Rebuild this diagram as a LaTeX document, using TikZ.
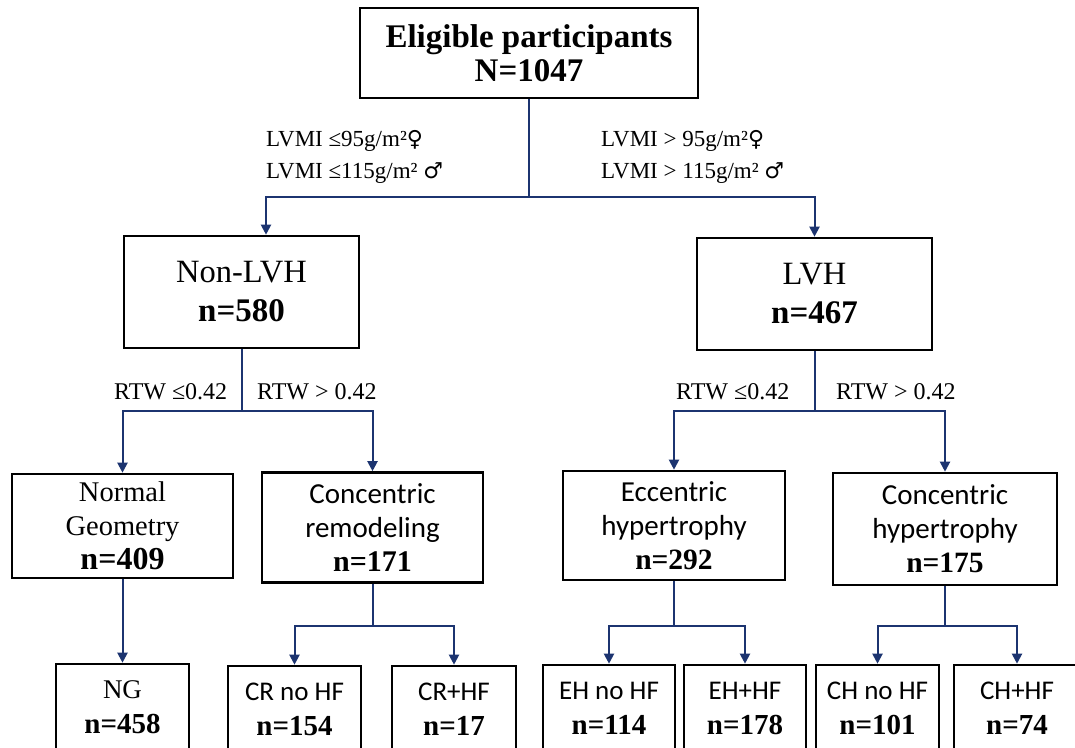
\documentclass[tikz,border=0pt]{standalone}
\usepackage{fontspec}
\setmainfont{Liberation Serif}
\newfontfamily\calibfont{Carlito}
\newfontfamily\symfont{DejaVu Sans}
\usetikzlibrary{arrows.meta}
\definecolor{linecol}{RGB}{28,52,112}
\newcommand{\fem}{{\symfont\fontsize{22}{22}\selectfont ♀}}
\newcommand{\mal}{{\symfont\fontsize{22}{22}\selectfont ♂}}
\begin{document}
\begin{tikzpicture}[x=1pt,y=-1pt,
  box/.style={draw=black,line width=2.6pt,inner sep=0pt,align=center,fill=white},
  conn/.style={draw=linecol,line width=2pt,-{Triangle[width=10pt,length=10pt]}},
  stem/.style={draw=linecol,line width=2pt},
  lab/.style={inner sep=0pt,font=\fontsize{24}{31}\selectfont},
  labtwo/.style={inner sep=0pt,align=left,font=\fontsize{23}{32}\selectfont},
  midbox/.style={box,minimum width=221pt},
  botbox/.style={box,minimum height=86pt},
  serifmid/.style={font=\fontsize{28.5}{34}\selectfont},
  sansmid/.style={font=\calibfont\fontsize{29}{34}\selectfont},
  sansbot/.style={font=\calibfont\fontsize{27}{35}\selectfont},
  serifbot/.style={font=\fontsize{27}{35}\selectfont}
]
\newcommand{\bnum}[2]{{\rmfamily\bfseries\fontsize{#1}{#1}\selectfont #2}}
\useasboundingbox (0,0) rectangle (1075,747);
\clip (0,0) rectangle (1075,747);

% level 0
\node[box,minimum width=338pt,minimum height=90pt,font=\fontsize{33}{34}\selectfont\bfseries] (top) at (529,53) {Eligible participants\\N=1047};

% level 1
\node[box,minimum width=235pt,minimum height=112pt,font=\fontsize{32.5}{39}\selectfont] (nonlvh) at (241.5,292)
  {Non-LVH\\\bnum{33}{n=580}};
\node[box,minimum width=235pt,minimum height=112pt,font=\fontsize{32.5}{39}\selectfont] (lvh) at (814.5,294)
  {LVH\\\bnum{33}{n=467}};

% level 2
\node[midbox,serifmid,minimum height=104pt] (ng) at (122.5,526)
  {Normal\\Geometry\\\bnum{32}{n=409}};
\node[midbox,sansmid,minimum height=110pt] (cr) at (372.5,527.5)
  {Concentric\\remodeling\\\bnum{30}{n=171}};
\node[box,sansmid,minimum width=222pt,minimum height=109pt] (eh) at (674,525.5)
  {Eccentric\\hypertrophy\\\bnum{29.5}{n=292}};
\node[box,sansmid,minimum width=224pt,minimum height=112pt] (ch) at (945,529)
  {Concentric\\hypertrophy\\\bnum{29.5}{n=175}};

% level 3
\node[botbox,serifbot,minimum width=133pt] (ngb) at (122.5,707)
  {NG\\\bnum{29}{n=458}};
\node[botbox,sansbot,minimum width=133pt] (crn) at (294.5,709)
  {CR no HF\\\bnum{29}{n=154}};
\node[botbox,sansbot,minimum width=124pt] (crh) at (454,709)
  {CR+HF\\\bnum{29}{n=17}};
\node[botbox,sansbot,minimum width=132pt] (ehn) at (609,708)
  {EH no HF\\\bnum{29}{n=114}};
\node[botbox,sansbot,minimum width=122pt] (ehh) at (745,708)
  {EH+HF\\\bnum{29}{n=178}};
\node[botbox,sansbot,minimum width=123pt] (chn) at (877.5,708)
  {CH no HF\\\bnum{29}{n=101}};
\node[botbox,sansbot,minimum width=126pt] (chh) at (1017,708)
  {CH+HF\\\bnum{29}{n=74}};

% junctions
\path (top.south) ++(0,98) coordinate (j0);
\path (nonlvh.south) ++(0,62) coordinate (j1);
\path (lvh.south) ++(0,60) coordinate (j2);
\path (cr.south) ++(0,42) coordinate (j4);
\path (eh.south) ++(0,45) coordinate (j5);
\path (ch.south) ++(0,40) coordinate (j6);

% connectors
\draw[stem] (top.south) -- (j0);
\draw[conn] (j0) -| ([xshift=24.5pt]nonlvh.north);
\draw[conn] (j0) -| (lvh.north);

\draw[stem] (nonlvh.south) -- (j1);
\draw[conn] (j1) -| (ng.north);
\draw[conn] (j1) -| (cr.north);

\draw[stem] (lvh.south) -- (j2);
\draw[conn] (j2) -| (eh.north);
\draw[conn] (j2) -| (ch.north);

\draw[conn] (ng.south) -- (ngb.north);

\draw[stem] (cr.south) -- (j4);
\draw[conn] (j4) -| (crn.north);
\draw[conn] (j4) -| (crh.north);

\draw[stem] (eh.south) -- (j5);
\draw[conn] (j5) -| (ehn.north);
\draw[conn] (j5) -| (ehh.north);

\draw[stem] (ch.south) -- (j6);
\draw[conn] (j6) -| (chn.north);
\draw[conn] (j6) -| (chh.north);

% labels
\node[labtwo,anchor=north west] (l1) at (266,130) {LVMI ≤95g/m²\fem\\LVMI ≤115g/m² \mal};
\node[labtwo,anchor=north west] (l2) at (601,130) {LVMI > 95g/m²\fem\\LVMI > 115g/m² \mal};
\node[lab,anchor=base west] (r1) at (114,399) {RTW ≤0.42};
\node[lab,anchor=base west] (r2) at (257,399) {RTW > 0.42};
\node[lab,anchor=base west] (r3) at (676,399) {RTW ≤0.42};
\node[lab,anchor=base west] (r4) at (836,399) {RTW > 0.42};
\end{tikzpicture}
\end{document}
